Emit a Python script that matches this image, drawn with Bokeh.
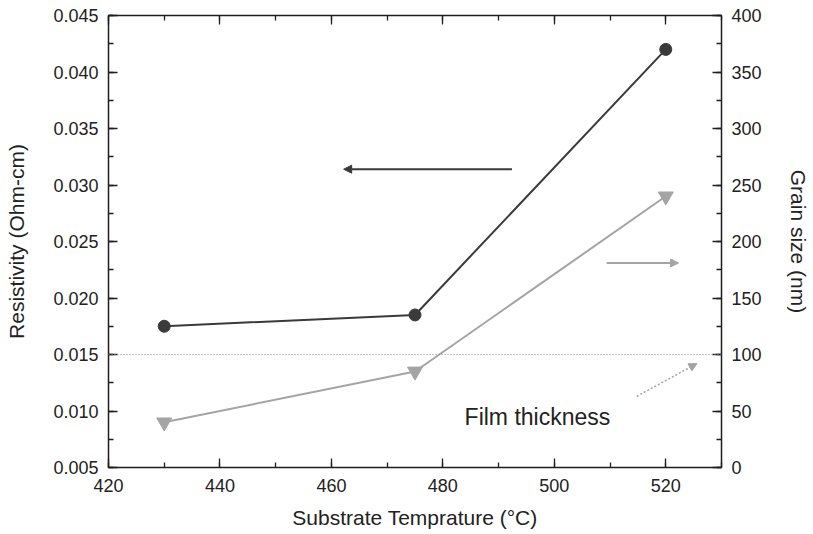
from bokeh.plotting import figure
from bokeh.models import (Range1d, LinearAxis, SingleIntervalTicker, PrintfTickFormatter,
                          CustomJSTickFormatter, Span, Label, Arrow, NormalHead)
from bokeh.embed import file_html
from bokeh.resources import INLINE

# ---- data ----
temperature = [430, 475, 520]
resistivity = [0.0175, 0.0185, 0.0420]      # Ohm-cm (left axis)
grain_size = [40, 85, 240]                  # nm (right axis)
film_thickness = 100                        # nm (dotted reference line)

# annotation anchors (data coords)
res_arrow = dict(x_start=492.4, x_end=462.2, y=0.0314)
grain_arrow = dict(x_start=509.4, x_end=522.3, y=181)
film_arrow = dict(x_start=514.8, y_start=63, x_end=525.6, y_end=92)
film_label = dict(x=483.9, y=0.0095, text="Film thickness")

FONT = "Liberation Sans"
DARK = "#3a3a3a"
GRAY = "#a4a4a4"
AX = "#1e1e1e"

p = figure(width=813, height=534, output_backend="svg", toolbar_location=None,
           x_range=Range1d(420, 530), y_range=Range1d(0.005, 0.045),
           min_border_left=108, min_border_right=92, min_border_top=15, min_border_bottom=67,
           x_axis_location=None, y_axis_location=None)
p.extra_y_ranges = {"grain": Range1d(0, 400)}
p.grid.visible = False
p.outline_line_color = None
p.background_fill_color = "white"
p.border_fill_color = "white"


def style(ax):
    ax.axis_line_color = AX
    ax.axis_line_width = 1.5
    ax.major_tick_line_color = AX
    ax.minor_tick_line_color = AX
    ax.major_tick_line_width = 1.3
    ax.minor_tick_line_width = 1.3
    ax.major_tick_in = 9
    ax.major_tick_out = 0
    ax.minor_tick_in = 5
    ax.minor_tick_out = 0
    ax.major_label_text_font = FONT
    ax.major_label_text_font_size = "18px"
    ax.major_label_text_color = "#222222"
    ax.axis_label_text_font = FONT
    ax.axis_label_text_font_size = "21px"
    ax.axis_label_text_font_style = "normal"
    ax.axis_label_text_color = "#222222"


xb = LinearAxis(ticker=SingleIntervalTicker(interval=20, num_minor_ticks=2),
                axis_label="Substrate Temprature (°C)")
style(xb)
xb.major_label_standoff = 11
xb.axis_label_standoff = 11
p.add_layout(xb, "below")

xt = LinearAxis(ticker=SingleIntervalTicker(interval=20, num_minor_ticks=2),
                formatter=CustomJSTickFormatter(code="return ''"))
style(xt)
xt.major_label_standoff = 0
p.add_layout(xt, "above")

yl = LinearAxis(ticker=SingleIntervalTicker(interval=0.005, num_minor_ticks=2),
                formatter=PrintfTickFormatter(format="%.3f"),
                axis_label="Resistivity (Ohm-cm)")
style(yl)
yl.major_label_standoff = 10
yl.axis_label_standoff = 22
p.add_layout(yl, "left")

yr = LinearAxis(y_range_name="grain",
                ticker=SingleIntervalTicker(interval=50, num_minor_ticks=2),
                axis_label="Grain size (nm)")
style(yr)
yr.major_label_standoff = 10
yr.axis_label_standoff = 22
p.add_layout(yr, "right")

# film thickness reference line
p.add_layout(Span(location=film_thickness, dimension="width", y_range_name="grain",
                  line_color="#8a8a8a", line_width=1, line_dash="1 2"))

# series
p.line(temperature, resistivity, line_color=DARK, line_width=2)
p.scatter(temperature, resistivity, marker="circle", size=12,
          fill_color=DARK, line_color=DARK)
p.line(temperature, grain_size, y_range_name="grain", line_color=GRAY, line_width=2)
p.scatter(temperature, grain_size, y_range_name="grain", marker="inverted_triangle",
          size=15, fill_color=GRAY, line_color=GRAY)

# arrows
p.add_layout(Arrow(x_start=res_arrow["x_start"], x_end=res_arrow["x_end"],
                   y_start=res_arrow["y"], y_end=res_arrow["y"],
                   line_color=DARK, line_width=2,
                   end=NormalHead(size=8, fill_color=DARK, line_color=DARK)))
p.add_layout(Arrow(x_start=grain_arrow["x_start"], x_end=grain_arrow["x_end"],
                   y_start=grain_arrow["y"], y_end=grain_arrow["y"], y_range_name="grain",
                   line_color=GRAY, line_width=2,
                   end=NormalHead(size=8, fill_color=GRAY, line_color=GRAY)))
p.add_layout(Arrow(x_start=film_arrow["x_start"], x_end=film_arrow["x_end"],
                   y_start=film_arrow["y_start"], y_end=film_arrow["y_end"], y_range_name="grain",
                   line_color=GRAY, line_width=1.5, line_dash="2 2",
                   end=NormalHead(size=8, fill_color=GRAY, line_color=GRAY)))

p.add_layout(Label(x=film_label["x"], y=film_label["y"], text=film_label["text"],
                   text_font=FONT, text_font_size="23px", text_color="#222222",
                   text_baseline="alphabetic"))

open("out.html", "w").write(file_html(p, INLINE))
